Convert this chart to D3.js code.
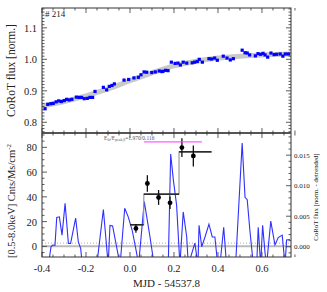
<!DOCTYPE html>
<html>
<head>
<meta charset="utf-8">
<script src="https://cdn.jsdelivr.net/npm/d3@7"></script>
<style>
  body { margin: 0; background: #fff; }
  text { font-family: "Liberation Serif", "DejaVu Serif", serif; fill: #222; }
</style>
</head>
<body>
<svg id="chart" width="327" height="292"></svg>
<script>
// CoRoT light curve (top panel)
const fluxTime = [-0.386,-0.374,-0.360,-0.349,-0.336,-0.324,-0.312,-0.299,-0.288,-0.276,-0.264,-0.244,-0.232,-0.220,-0.208,-0.194,-0.182,-0.170,-0.159,-0.121,-0.106,-0.094,-0.082,-0.071,-0.027,-0.006,0.018,0.038,0.050,0.064,0.076,0.099,0.115,0.133,0.145,0.150,0.162,0.173,0.188,0.205,0.218,0.229,0.242,0.258,0.283,0.294,0.306,0.315,0.329,0.359,0.371,0.385,0.397,0.424,0.441,0.456,0.470,0.510,0.523,0.533,0.544,0.570,0.582,0.594,0.605,0.614,0.626,0.641,0.655,0.667,0.683,0.695,0.706,0.720];
const fluxNorm = [0.843,0.857,0.859,0.860,0.865,0.868,0.866,0.869,0.873,0.871,0.873,0.880,0.879,0.879,0.875,0.876,0.879,0.879,0.898,0.911,0.903,0.914,0.917,0.922,0.934,0.936,0.941,0.943,0.951,0.960,0.959,0.958,0.960,0.963,0.961,0.962,0.965,0.964,0.991,0.987,0.988,0.982,0.991,0.988,0.989,0.991,0.993,1.000,0.991,1.002,1.001,1.004,0.997,1.010,1.004,0.998,1.002,1.029,1.021,1.020,1.014,1.011,1.018,1.016,1.019,1.014,1.007,1.020,1.015,1.016,1.017,1.010,1.017,1.017];

// smooth trend through the light curve
const trendTime = [-0.4,-0.3,-0.2,-0.1,0.0,0.1,0.2,0.3,0.4,0.5,0.6,0.73];
const trendFlux = [0.852,0.866,0.884,0.906,0.932,0.957,0.979,0.994,1.004,1.010,1.014,1.017];

// detrended CoRoT flux (bottom panel, right axis)
const detTime = [-0.371,-0.359,-0.351,-0.341,-0.333,-0.321,-0.309,-0.295,-0.280,-0.270,-0.247,-0.235,-0.224,-0.217,-0.151,-0.121,-0.099,-0.091,-0.079,-0.045,-0.024,-0.008,0.010,0.030,0.039,0.065,0.091,0.110,0.174,0.185,0.197,0.212,0.227,0.242,0.258,0.265,0.295,0.309,0.314,0.326,0.341,0.359,0.374,0.386,0.399,0.409,0.426,0.439,0.480,0.510,0.523,0.533,0.545,0.561,0.576,0.583,0.594,0.603,0.614,0.621,0.640,0.659,0.674,0.692,0.705,0.712,0.727];
const detFlux = [-0.003,0.0,0.00028,0.00022,0.0048,0.0049,0.0019,0.0071,0.00054,0.00054,0.0047,0.00082,-0.0003,-0.003,-0.003,0.0061,-0.003,0.0035,0.0034,-0.003,0.0063,0.0049,0.0027,-0.001,-0.003,0.0074,0.0016,-0.003,-0.003,0.0152,0.011,0.0068,-0.003,0.0057,0.0016,-0.003,0.0006,-0.003,0.0035,0.0,0.0016,0.0037,0.0016,0.0016,-0.003,-0.003,0.0032,-0.003,-0.003,0.0170,0.0081,0.0077,0.0027,-0.003,-0.003,0.0032,-0.003,0.0035,-0.001,-0.003,0.0042,0.0003,0.0015,0.0019,-0.003,0.0011,0.0012];

// X-ray count rates (bottom panel, left axis)
const xrayTime = [0.027,0.079,0.130,0.182,0.236,0.288];
const xrayRate = [14.5,50.8,39.5,35.2,79.8,73.1];
const xrayErr = [3.5,6.7,6.0,5.0,7.5,8.5];

// Bayesian blocks of the X-ray rate
const blockStart = [0.0,0.063,0.223];
const blockEnd = [0.062,0.223,0.371];
const blockRate = [17.4,42.2,76.3];

// flare interval marker
const flareStart = 0.064, flareEnd = 0.327, flareLevel = 84.4;

const xTicks = [-0.4,-0.2,0.0,0.2,0.4,0.6];
const fluxTicks = [0.8,0.9,1.0,1.1];
const rateTicks = [0,20,40,60,80];
const detTicks = [0.0,0.005,0.010,0.015];

const left = 42, right = 291, top1 = 8, mid = 133, bottom = 257;

const svg = d3.select("#chart");

const x = d3.scaleLinear().domain([-0.4, 0.732]).range([left, right]);
const yFlux = d3.scaleLinear().domain([0.766, 1.163]).range([mid, top1]);
const yRate = d3.scaleLinear().domain([-8.6, 91.6]).range([bottom, mid]);
const yDet = d3.scaleLinear().domain([-0.00168, 0.01863]).range([bottom, mid]);

svg.append("clipPath").attr("id", "clipTop")
  .append("rect").attr("x", left).attr("y", top1).attr("width", right - left).attr("height", mid - top1);
svg.append("clipPath").attr("id", "clipBot")
  .append("rect").attr("x", left).attr("y", mid).attr("width", right - left).attr("height", bottom - mid);

// ---- top panel ----
const gTop = svg.append("g").attr("clip-path", "url(#clipTop)");

gTop.append("path")
  .datum(trendTime.map((t, i) => [t, trendFlux[i]]))
  .attr("d", d3.line().x(d => x(d[0])).y(d => yFlux(d[1])).curve(d3.curveMonotoneX))
  .attr("fill", "none")
  .attr("stroke", "#bbb")
  .attr("stroke-width", 5)
  .attr("opacity", 0.8);

gTop.selectAll(".sq")
  .data(fluxTime.map((t, i) => [t, fluxNorm[i]]))
  .enter().append("rect")
  .attr("x", d => x(d[0]) - 1.6)
  .attr("y", d => yFlux(d[1]) - 1.6)
  .attr("width", 3.2)
  .attr("height", 3.2)
  .attr("fill", "#0000ff");

svg.append("text")
  .attr("x", left + 3).attr("y", top1 + 9)
  .style("font-size", "9px")
  .text("# 214");

// ---- bottom panel ----
const gBot = svg.append("g").attr("clip-path", "url(#clipBot)");

gBot.append("line")
  .attr("x1", left).attr("x2", right)
  .attr("y1", yRate(0)).attr("y2", yRate(0))
  .attr("stroke", "#bbb").attr("stroke-width", 2);

gBot.append("line")
  .attr("x1", left).attr("x2", right)
  .attr("y1", yRate(2.6)).attr("y2", yRate(2.6))
  .attr("stroke", "#999").attr("stroke-width", 0.8)
  .attr("stroke-dasharray", "1,2");

gBot.append("path")
  .datum(detTime.map((t, i) => [t, detFlux[i]]))
  .attr("d", d3.line().x(d => x(d[0])).y(d => yDet(d[1])))
  .attr("fill", "none")
  .attr("stroke", "#3030ff")
  .attr("stroke-width", 1.1);

// gray step of the blocks
const stepPts = [];
blockStart.forEach((s, i) => { stepPts.push([s, blockRate[i]]); stepPts.push([blockEnd[i], blockRate[i]]); });
gBot.append("path")
  .datum(stepPts)
  .attr("d", d3.line().x(d => x(d[0])).y(d => yRate(d[1])))
  .attr("fill", "none")
  .attr("stroke", "#999")
  .attr("stroke-width", 1.2);

gBot.selectAll(".blk")
  .data(blockRate)
  .enter().append("line")
  .attr("x1", (d, i) => x(blockStart[i]))
  .attr("x2", (d, i) => x(blockEnd[i]))
  .attr("y1", d => yRate(d)).attr("y2", d => yRate(d))
  .attr("stroke", "#000").attr("stroke-width", 1.2);

gBot.selectAll(".err")
  .data(xrayRate)
  .enter().append("line")
  .attr("x1", (d, i) => x(xrayTime[i])).attr("x2", (d, i) => x(xrayTime[i]))
  .attr("y1", (d, i) => yRate(d - xrayErr[i])).attr("y2", (d, i) => yRate(d + xrayErr[i]))
  .attr("stroke", "#111").attr("stroke-width", 1.3);

gBot.selectAll(".pt")
  .data(xrayRate)
  .enter().append("circle")
  .attr("cx", (d, i) => x(xrayTime[i]))
  .attr("cy", d => yRate(d))
  .attr("r", 2.4)
  .attr("fill", "#000");

gBot.append("line")
  .attr("x1", x(flareStart)).attr("x2", x(flareEnd))
  .attr("y1", yRate(flareLevel)).attr("y2", yRate(flareLevel))
  .attr("stroke", "#ff33ff").attr("stroke-width", 1);

const lab = svg.append("text")
  .attr("x", 104).attr("y", 139.5)
  .style("font-size", "5.5px")
  .style("fill", "#555");
lab.append("tspan").text("E");
lab.append("tspan").attr("dy", 1.2).style("font-size", "3.8px").text("lo");
lab.append("tspan").attr("dy", -1.2).text("/E");
lab.append("tspan").attr("dy", 1.2).style("font-size", "3.8px").text("peak,0");
lab.append("tspan").attr("dy", -1.2).text("=1.970/0.116");

// ---- frames and ticks ----
svg.append("rect")
  .attr("x", left).attr("y", top1).attr("width", right - left).attr("height", bottom - top1)
  .attr("fill", "none").attr("stroke", "#333").attr("stroke-width", 1);
svg.append("line")
  .attr("x1", left).attr("x2", right).attr("y1", mid).attr("y2", mid)
  .attr("stroke", "#555").attr("stroke-width", 2);

function xTickMarks(yPos) {
  const minor = d3.range(-0.4, 0.7501, 0.05);
  minor.forEach(v => {
    const major = xTicks.some(t => Math.abs(t - v) < 1e-6);
    const len = major ? 5 : 2.5;
    svg.append("line")
      .attr("x1", x(v)).attr("x2", x(v))
      .attr("y1", yPos).attr("y2", yPos === top1 ? yPos + len : yPos - len)
      .attr("stroke", "#333").attr("stroke-width", 0.8);
    if (yPos === mid) {
      svg.append("line")
        .attr("x1", x(v)).attr("x2", x(v))
        .attr("y1", mid).attr("y2", mid + len)
        .attr("stroke", "#333").attr("stroke-width", 0.8);
    }
  });
}
xTickMarks(top1);
xTickMarks(mid);
xTickMarks(bottom);

function yTickMarks(scale, values, majors, side, lo, hi) {
  values.forEach(v => {
    const yy = scale(v);
    if (yy < lo - 0.5 || yy > hi + 0.5) return;
    const major = majors.some(t => Math.abs(t - v) < 1e-9);
    const len = major ? 5 : 2.5;
    const x0 = side === "left" ? left : right;
    svg.append("line")
      .attr("x1", x0).attr("x2", side === "left" ? x0 + len : x0 - len)
      .attr("y1", yy).attr("y2", yy)
      .attr("stroke", "#333").attr("stroke-width", 0.8);
  });
}
const fluxMinor = d3.range(0.77, 1.161, 0.01).map(v => +v.toFixed(2));
yTickMarks(yFlux, fluxMinor, fluxTicks, "left", top1, mid);
yTickMarks(yFlux, fluxMinor, fluxTicks, "right", top1, mid);
yTickMarks(yRate, d3.range(-5, 91, 5), rateTicks, "left", mid, bottom);
yTickMarks(yDet, d3.range(-0.001, 0.0186, 0.001).map(v => +v.toFixed(3)), detTicks, "right", mid, bottom);

// ---- tick labels ----
svg.selectAll(".xl")
  .data(xTicks)
  .enter().append("text")
  .attr("x", d => x(d)).attr("y", bottom + 15)
  .attr("text-anchor", "middle")
  .style("font-size", "10.5px")
  .text(d => d3.format(".1f")(d).replace("−", "-"));

svg.selectAll(".fl")
  .data(fluxTicks)
  .enter().append("text")
  .attr("x", left - 5).attr("y", d => yFlux(d) + 4)
  .attr("text-anchor", "end")
  .style("font-size", "10.5px")
  .text(d => d3.format(".1f")(d));

svg.selectAll(".rl")
  .data(rateTicks)
  .enter().append("text")
  .attr("x", left - 5).attr("y", d => yRate(d) + 4)
  .attr("text-anchor", "end")
  .style("font-size", "10.5px")
  .text(d => d);

svg.selectAll(".dl")
  .data(detTicks)
  .enter().append("text")
  .attr("x", right + 3).attr("y", d => yDet(d) + 2.5)
  .style("font-size", "7px")
  .text(d => d3.format(".3f")(d));

// ---- axis titles ----
svg.append("text")
  .attr("transform", `translate(15,${(top1 + mid) / 2}) rotate(-90)`)
  .attr("text-anchor", "middle")
  .style("font-size", "11.5px")
  .text("CoRoT flux [norm.]");

const yl = svg.append("text")
  .attr("transform", `translate(15,${(mid + bottom) / 2 + 6}) rotate(-90)`)
  .attr("text-anchor", "middle")
  .style("font-size", "10.5px");
yl.append("tspan").text("[0.5-8.0keV] Cnts/Ms/cm");
yl.append("tspan").attr("dy", -4).style("font-size", "7px").text("-2");

svg.append("text")
  .attr("transform", `translate(318,${(mid + bottom) / 2 + 2}) rotate(-90)`)
  .attr("text-anchor", "middle")
  .style("font-size", "6.8px")
  .text("CoRoT flux [norm. - detrended]");

svg.append("text")
  .attr("x", (left + right) / 2).attr("y", 287)
  .attr("text-anchor", "middle")
  .style("font-size", "11px")
  .text("MJD - 54537.8");
</script>
</body>
</html>
